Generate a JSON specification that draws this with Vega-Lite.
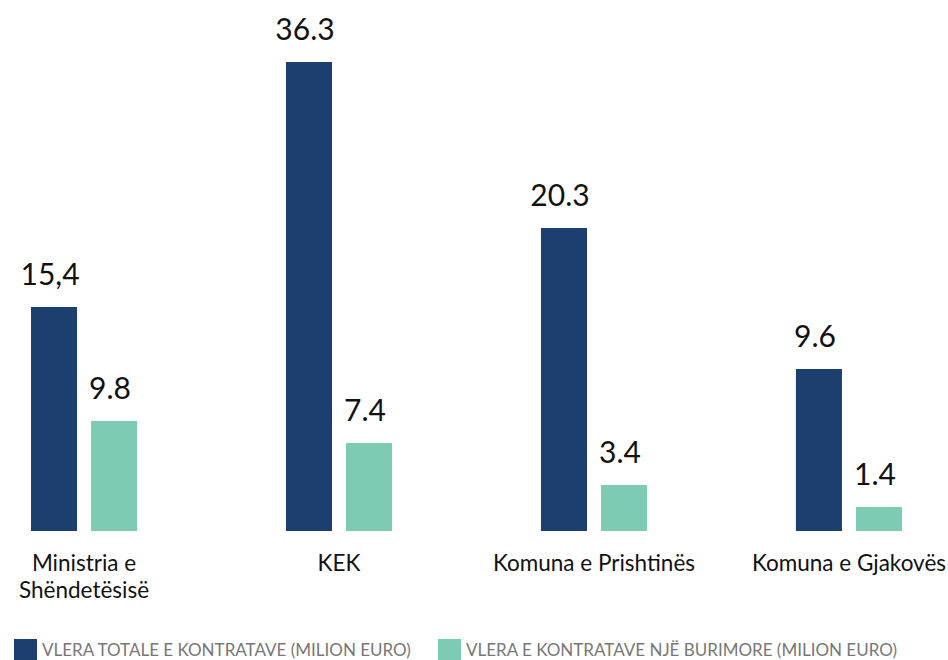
{
  "$schema": "https://vega.github.io/schema/vega-lite/v6.json",
  "width": 933,
  "height": 531,
  "autosize": {"type": "none"},
  "padding": {"left": 0, "top": 0, "right": 15, "bottom": 129},
  "background": "white",
  "config": {
    "view": {"stroke": null},
    "font": "Lato"
  },
  "data": {
    "values": [
      {"category": "Ministria e Shëndetësisë", "series": "VLERA TOTALE E KONTRATAVE (MILION EURO)", "bar": 17.34, "label": "15,4"},
      {"category": "Ministria e Shëndetësisë", "series": "VLERA E KONTRATAVE NJË BURIMORE (MILION EURO)", "bar": 8.51, "label": "9.8"},
      {"category": "KEK", "series": "VLERA TOTALE E KONTRATAVE (MILION EURO)", "bar": 36.3, "label": "36.3"},
      {"category": "KEK", "series": "VLERA E KONTRATAVE NJË BURIMORE (MILION EURO)", "bar": 6.81, "label": "7.4"},
      {"category": "Komuna e Prishtinës", "series": "VLERA TOTALE E KONTRATAVE (MILION EURO)", "bar": 23.45, "label": "20.3"},
      {"category": "Komuna e Prishtinës", "series": "VLERA E KONTRATAVE NJË BURIMORE (MILION EURO)", "bar": 3.56, "label": "3.4"},
      {"category": "Komuna e Gjakovës", "series": "VLERA TOTALE E KONTRATAVE (MILION EURO)", "bar": 12.54, "label": "9.6"},
      {"category": "Komuna e Gjakovës", "series": "VLERA E KONTRATAVE NJË BURIMORE (MILION EURO)", "bar": 1.86, "label": "1.4"}
    ]
  },
  "encoding": {
    "x": {
      "field": "category",
      "type": "nominal",
      "sort": ["Ministria e Shëndetësisë", "KEK", "Komuna e Prishtinës", "Komuna e Gjakovës"],
      "scale": {"paddingInner": 0.584, "paddingOuter": 0.1216},
      "axis": {
        "title": null,
        "domain": false,
        "ticks": false,
        "grid": false,
        "labelAngle": 0,
        "labelFontSize": 22.5,
        "labelColor": "#111111",
        "labelPadding": 21,
        "labelLineHeight": 27,
        "labelLimit": 400,
        "labelOverlap": false,
        "labelExpr": "datum.label == 'Ministria e Shëndetësisë' ? ['Ministria e', 'Shëndetësisë'] : datum.label"
      }
    },
    "xOffset": {
      "field": "series",
      "type": "nominal",
      "sort": ["VLERA TOTALE E KONTRATAVE (MILION EURO)", "VLERA E KONTRATAVE NJË BURIMORE (MILION EURO)"],
      "scale": {"paddingInner": 0.233, "paddingOuter": 0}
    },
    "y": {
      "field": "bar",
      "type": "quantitative",
      "scale": {"domain": [0, 41.1], "nice": false, "zero": true},
      "axis": null
    }
  },
  "layer": [
    {
      "mark": {"type": "bar"},
      "encoding": {
        "color": {
          "field": "series",
          "type": "nominal",
          "scale": {
            "domain": ["VLERA TOTALE E KONTRATAVE (MILION EURO)", "VLERA E KONTRATAVE NJË BURIMORE (MILION EURO)"],
            "range": ["#1c3f70", "#7ecbb3"]
          },
          "legend": {
            "title": null,
            "orient": "none",
            "legendX": 14,
            "legendY": 639,
            "direction": "horizontal",
            "symbolType": "square",
            "symbolSize": 529,
            "symbolStrokeWidth": 0,
            "symbolOpacity": 1,
            "labelFontSize": 17,
            "labelColor": "#777777",
            "labelOffset": 5,
            "labelLimit": 600,
            "columnPadding": 26
          }
        }
      }
    },
    {
      "mark": {"type": "text", "baseline": "alphabetic", "align": "center", "dy": -22, "dx": -4, "fontSize": 30, "color": "#111111"},
      "encoding": {
        "text": {"field": "label", "type": "nominal"}
      }
    }
  ]
}
